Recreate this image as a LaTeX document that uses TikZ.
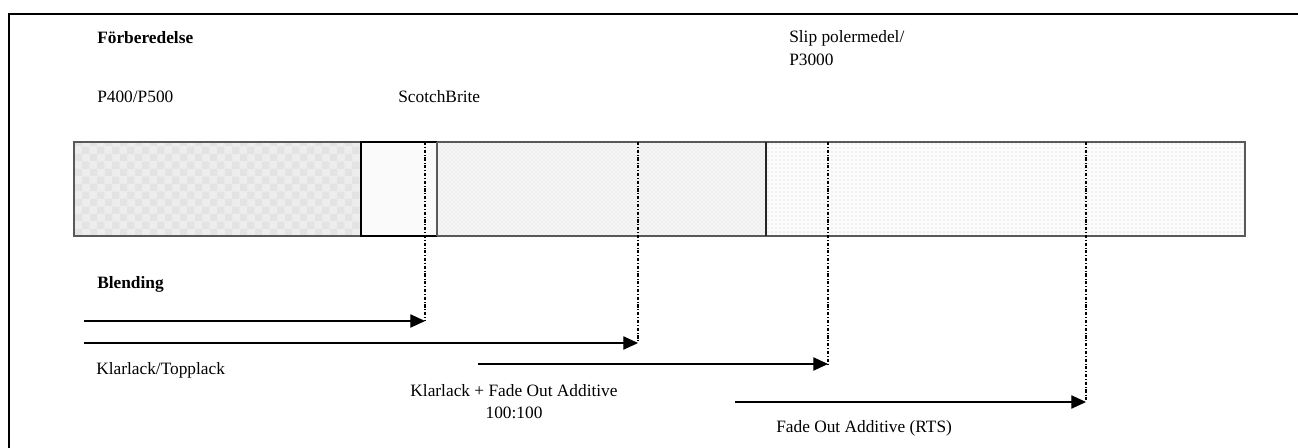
\documentclass[tikz,border=0pt]{standalone}
\usepackage{fontspec}
\setmainfont{Liberation Serif}
\usetikzlibrary{arrows.meta,patterns}
\begin{document}
\begin{tikzpicture}[x=0.75pt,y=-0.75pt,
  lbl/.style={anchor=west,inner sep=0pt,font=\fontsize{13pt}{15pt}\selectfont},
  blbl/.style={lbl,font=\fontsize{13pt}{15pt}\selectfont\bfseries},
  seg/.style={draw=gray!70!black,line width=1.1pt},
  guide/.style={line width=0.8pt,dash pattern=on 2.4pt off 1.4pt on 0.6pt off 1.4pt},
  flow/.style={line width=0.8pt,-{Triangle[length=11pt,width=10pt]}}]
\useasboundingbox (0,0) rectangle (1298,448);
% outer frame
\draw[line width=1.6pt] (9,449) -- (9,14) -- (1299,14);
% bar segments
\fill[gray!14] (74,142) rectangle (361,236);
\fill[pattern=checkerboard,pattern color=gray!22] (74,142) rectangle (361,236);
\fill[gray!4] (361,142) rectangle (437,236);
\fill[gray!6] (437,142) rectangle (766,236);
\fill[pattern=crosshatch dots,pattern color=gray!35] (437,142) rectangle (766,236);
\fill[gray!3] (766,142) rectangle (1245,236);
\fill[pattern=dots,pattern color=gray!35] (766,142) rectangle (1245,236);
\draw[seg] (74,142) rectangle (1245,236);
\draw[line width=0.8pt] (437,142) -- (361,142) -- (361,236) -- (437,236);
\draw[seg] (437,142) -- (437,236);
\draw[line width=0.9pt,draw=black!85] (766,142) -- (766,236);
% coordinates
\coordinate (g1t) at (425,142); \coordinate (g1b) at (425,321);
\coordinate (g2t) at (638,142); \coordinate (g2b) at (638,343);
\coordinate (g3t) at (828,142); \coordinate (g3b) at (828,364);
\coordinate (g4t) at (1086,142); \coordinate (g4b) at (1086,402);
\coordinate (a1) at (84,321);
\coordinate (a2) at (84,343);
\coordinate (a3) at (478,364);
\coordinate (a4) at (735,402);
% guides
\draw[guide] (g1t) -- (g1b);
\draw[guide] (g2t) -- (g2b);
\draw[guide] (g3t) -- (g3b);
\draw[guide] (g4t) -- (g4b);
% arrows
\draw[flow] (a1) -- (g1b);
\draw[flow] (a2) -- (g2b);
\draw[flow] (a3) -- (g3b);
\draw[flow] (a4) -- (g4b);
% labels
\node[blbl] (forb) at (97,38) {Förberedelse};
\node[lbl] (slip) at (789,38) {Slip polermedel/};
\node[lbl] (p3000) at (789,60) {P3000};
\node[lbl] (p400) at (97,97) {P400/P500};
\node[lbl] (scotch) at (398,97) {ScotchBrite};
\node[blbl] (blend) at (97,284) {Blending};
\node[lbl] (klar) at (96,370) {Klarlack/Topplack};
\node[anchor=center,inner sep=0pt,align=center,font=\fontsize{13pt}{16.5pt}\selectfont] (kfade) at (514,402) {Klarlack + Fade Out Additive\\100:100};
\node[lbl] (fade) at (776,428) {Fade Out Additive (RTS)};
\end{tikzpicture}
\end{document}
